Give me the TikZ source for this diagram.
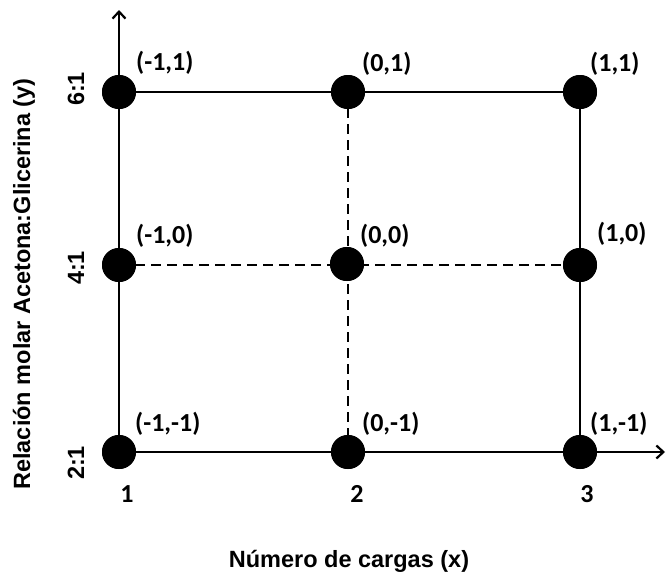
\documentclass[tikz,border=0pt]{standalone}
\usepackage{fontspec}
\setmainfont{Carlito}
\newfontfamily\arialf{Liberation Sans}
\usetikzlibrary{arrows.meta}
\begin{document}
\begin{tikzpicture}[x=1pt,y=-1pt,
  pt/.style={circle,fill=black,inner sep=0pt,minimum size=34pt},
  lbl/.style={font=\fontsize{26}{28}\selectfont\bfseries,inner sep=0pt},
  albl/.style={font=\arialf\fontsize{23.5}{26}\selectfont\bfseries,inner sep=0pt},
  ln/.style={line width=2.9pt},
  dsh/.style={line width=2.4pt,dash pattern=on 10pt off 6pt},
  ax/.style={line width=2.9pt,-{Straight Barb[length=7pt,width=13pt,line width=2.2pt]}}]
\useasboundingbox (0,0) rectangle (666,573);
% points
\node[pt] (a1) at (119,92) {};
\node[pt] (a2) at (348,92) {};
\node[pt] (a3) at (580,92) {};
\node[pt] (b1) at (119,265) {};
\node[pt] (b2) at (347,264) {};
\node[pt] (b3) at (580,265) {};
\node[pt] (c1) at (119,452) {};
\node[pt] (c2) at (348,452) {};
\node[pt] (c3) at (580,452) {};
\coordinate (ytop) at (119,10);
\coordinate (xend) at (665,452);
% lines
\draw[ln] (a1.center) -- (a3.center);
\draw[ln] (a3.center) -- (c3.center);
\draw[ax] (c1.center) -- (ytop);
\draw[ax] (c1.center) -- (xend);
\draw[dsh] (a2.center) -- (c2.center);
\draw[dsh] (b1.center) -- (b3.center);
\foreach \n in {a1,a2,a3,b1,b2,b3,c1,c2,c3} \fill (\n) circle (17pt);
% point labels
\node[lbl,anchor=west] (la1) at (136,63) {(-1,1)};
\node[lbl,anchor=west] (la2) at (362,64) {(0,1)};
\node[lbl,anchor=west] (la3) at (590,64) {(1,1)};
\node[lbl,anchor=west] (lb1) at (136,236) {(-1,0)};
\node[lbl,anchor=west] (lb2) at (360,236) {(0,0)};
\node[lbl,anchor=west] (lb3) at (597,234) {(1,0)};
\node[lbl,anchor=west] (lc1) at (135,424) {(-1,-1)};
\node[lbl,anchor=west] (lc2) at (362,424) {(0,-1)};
\node[lbl,anchor=west] (lc3) at (590,424) {(1,-1)};
% axis tick labels
\node[lbl] (x1) at (127,494) {1};
\node[lbl] (x2) at (357,494) {2};
\node[lbl] (x3) at (587,494) {3};
\node[albl,rotate=90] (y1) at (76,463) {2:1};
\node[albl,rotate=90] (y2) at (76,268) {4:1};
\node[albl,rotate=90] (y3) at (76,89) {6:1};
% axis titles
\node[albl,anchor=base] (xt) at (349,567) {Número de cargas (x)};
\node[albl,rotate=90] (yt) at (24,284) {Relación molar Acetona:Glicerina (y)};
\end{tikzpicture}
\end{document}
